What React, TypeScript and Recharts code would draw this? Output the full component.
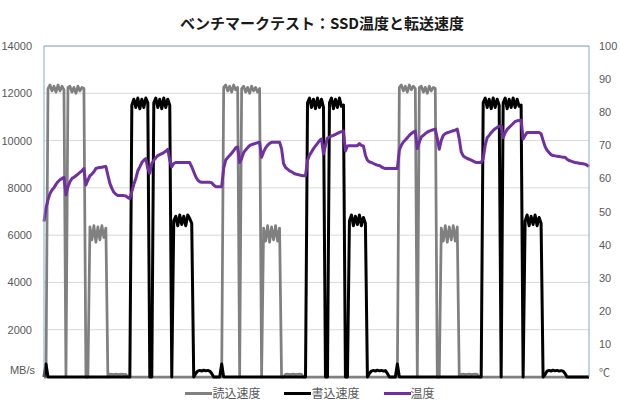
import { CartesianGrid, Line, LineChart, ReferenceLine, XAxis, YAxis } from "recharts";

// read speed (MB/s), one sample every ~2px of the time axis
const readSpeed = [
  0, 0, 12200, 12350, 12100, 12300, 12050, 12350, 12100, 12300,
  12150, 0, 12250, 12300, 12050, 12250, 12000, 12300, 12100, 12250,
  12200, 0, 0, 6350, 5800, 6400, 5700, 6350, 5800, 6400,
  5900, 6300, 0, 120, 110, 100, 120, 100, 110, 120,
  100, 110, 0, 0, 0, 0, 0, 0, 0, 0,
  0, 0, 0, 0, 0, 0, 0, 0, 0, 0,
  0, 0, 0, 0, 0, 0, 0, 0, 0, 0,
  0, 0, 0, 0, 0, 0, 0, 0, 0, 0,
  0, 0, 0, 0, 0, 0, 0, 0, 0, 0,
  12250, 12350, 12100, 12300, 12050, 12350, 12150, 12250, 0, 12200,
  12300, 12050, 12250, 12000, 12300, 12100, 12250, 12050, 12200, 0,
  6300, 5750, 6400, 5700, 6350, 5800, 6400, 5750, 6300, 0,
  0, 110, 120, 100, 110, 120, 100, 110, 120, 110,
  0, 0, 0, 0, 0, 0, 0, 0, 0, 0,
  0, 0, 0, 0, 0, 0, 0, 0, 0, 0,
  0, 0, 0, 0, 0, 0, 0, 0, 0, 0,
  0, 0, 0, 0, 0, 0, 0, 0, 0, 0,
  0, 0, 0, 0, 0, 0, 0, 0, 12250, 12350,
  12100, 12300, 12050, 12350, 12150, 12300, 12200, 0, 12250, 12300,
  12050, 12250, 12000, 12300, 12100, 12250, 12200, 0, 0, 6300,
  5750, 6400, 5700, 6350, 5800, 6400, 5750, 6350, 50, 110,
  120, 100, 110, 120, 100, 110, 120, 110, 0, 0,
  0, 0, 0, 0, 0, 0, 0, 0, 0, 0,
  0, 0, 0, 0, 0, 0, 0, 0, 0, 0,
  0, 0, 0, 0, 0, 0, 0, 0, 0, 0,
  0, 0, 0, 0, 0, 0, 0, 0, 0, 0,
  0, 0, 0, 0, 0, 0, 0, 0, 0, 0,
  0, 0, 0, 0,
];

// write speed (MB/s)
const writeSpeed = [
  0, 550, 0, 0, 0, 0, 0, 0, 0, 0,
  0, 0, 0, 0, 0, 0, 0, 0, 0, 0,
  0, 0, 0, 0, 0, 0, 0, 0, 0, 0,
  0, 0, 0, 0, 0, 0, 0, 0, 0, 0,
  0, 0, 0, 0, 11500, 11750, 11400, 11800, 11350, 11750,
  11400, 11800, 11600, 0, 0, 11600, 11800, 11400, 11750, 11350,
  11800, 11400, 11750, 11500, 0, 6600, 6800, 6400, 6850, 6450,
  6800, 6400, 6850, 6700, 6500, 0, 150, 250, 280, 250,
  290, 260, 280, 250, 150, 0, 0, 0, 0, 550,
  0, 0, 0, 0, 0, 0, 0, 0, 0, 0,
  0, 0, 0, 0, 0, 0, 0, 0, 0, 0,
  0, 0, 0, 0, 0, 0, 0, 0, 0, 0,
  0, 0, 0, 0, 0, 0, 0, 0, 0, 0,
  0, 0, 11600, 11800, 11400, 11750, 11350, 11800, 11400, 11750,
  11400, 0, 0, 11600, 11800, 11350, 11750, 11400, 11800, 11450,
  11500, 0, 0, 6600, 6850, 6400, 6800, 6450, 6850, 6400,
  6750, 6500, 0, 150, 250, 280, 250, 290, 260, 280,
  250, 270, 150, 0, 0, 0, 0, 550, 0, 0,
  0, 0, 0, 0, 0, 0, 0, 0, 0, 0,
  0, 0, 0, 0, 0, 0, 0, 0, 0, 0,
  0, 0, 0, 0, 0, 0, 0, 0, 0, 0,
  0, 0, 0, 0, 0, 0, 0, 0, 0, 0,
  11600, 11800, 11400, 11750, 11350, 11800, 11400, 11750, 11500, 0,
  11600, 11800, 11350, 11750, 11400, 11800, 11400, 11750, 11450, 11500,
  0, 6600, 6850, 6400, 6800, 6450, 6850, 6400, 6750, 6500,
  0, 100, 250, 280, 250, 290, 260, 280, 250, 270,
  250, 150, 0, 0, 0, 0, 0, 0, 0, 0,
  0, 0, 0, 0,
];

// SSD temperature (°C)
const temperature = [
  47, 51, 53.5, 55.4, 56.5, 57.2, 58.2, 59, 59.6, 60,
  60.3, 55, 57.5, 59, 60, 60.3, 60.8, 61.3, 61.8, 62.3,
  63, 58, 59.5, 60.8, 61.3, 62, 63, 63.2, 63.3, 63.4,
  63.5, 63.6, 61, 58.5, 57, 55.8, 55.2, 54.8, 54.8, 54.8,
  54.8, 54.7, 54.2, 53.9, 56, 58.2, 60, 62.3, 63.5, 64.8,
  65.5, 66, 63, 61.5, 64.5, 65.5, 66.2, 66.9, 67.2, 67.5,
  67.8, 68.2, 68.8, 65.5, 63.5, 64.5, 64.8, 64.8, 64.8, 64.8,
  64.8, 64.8, 64.8, 64.8, 63.5, 62, 60.5, 59.5, 59, 58.8,
  58.8, 58.8, 58.8, 58.8, 58.7, 58, 57.5, 57.5, 57.5, 57.5,
  63, 65.5, 66.3, 66.9, 67.6, 68.4, 69.2, 69.5, 64.8, 66,
  67.8, 68.6, 69.3, 69.9, 70.2, 70.4, 70.6, 70.8, 70.9, 66.4,
  68, 69.2, 70, 70.6, 70.9, 70.9, 70.9, 70.9, 70.9, 69,
  64.5, 63.3, 62.8, 62.3, 62, 61.6, 61.3, 61.2, 61, 60.9,
  60.8, 60.8, 65.5, 67, 68, 69, 69.8, 70.6, 71.4, 71.9,
  67.4, 70, 72.2, 72.5, 72.8, 73, 73.3, 73.6, 73.9, 74.1,
  74.3, 68.3, 69.8, 69.9, 69.9, 69.9, 69.9, 69.9, 70.5, 70,
  69.8, 67, 65.5, 65, 64.8, 64.5, 64.2, 64, 63.9, 63.5,
  63.2, 63, 63, 63, 63, 63, 63, 63, 68.5, 70,
  71, 71.6, 72.3, 73, 73.6, 74, 74.3, 69, 71, 72.5,
  73, 73.5, 74, 74.3, 74.5, 74.7, 74.9, 72, 68.8, 71.5,
  73, 73.5, 73.8, 74, 74.2, 74.4, 74.6, 74.9, 72, 68,
  66.8, 66.4, 66, 65.8, 65.5, 65.2, 64.9, 64.8, 64.8, 64.8,
  66, 70, 72.3, 73, 73.8, 74.5, 75, 75.4, 75.7, 75.9,
  72.3, 73.8, 74.8, 75.4, 76, 76.6, 77.2, 77.4, 77.5, 77.6,
  71.9, 73, 73.9, 73.9, 73.9, 73.9, 73.9, 73.9, 73.9, 73.5,
  71.5, 69.6, 68.5, 67.8, 67.2, 66.9, 66.8, 66.7, 66.6, 66.5,
  66.4, 66.4, 65.8, 65.4, 65.2, 65, 64.8, 64.7, 64.6, 64.5,
  64.4, 64.3, 64, 63.6,
];

const speedTicks = [0, 2000, 4000, 6000, 8000, 10000, 12000, 14000];
const tempTicks = [0, 10, 20, 30, 40, 50, 60, 70, 80, 90, 100];

const series = [
  { key: "read", name: "読込速度", color: "#808080" },
  { key: "write", name: "書込速度", color: "#000000" },
  { key: "temp", name: "温度", color: "#7030A0" },
];

const data = temperature.map((t, i) => ({
  t: i,
  read: readSpeed[i],
  write: writeSpeed[i],
  temp: t,
}));

const tickFont = "'Liberation Sans', Arial, sans-serif";
const jpFont = "'Noto Sans CJK JP', sans-serif";

function LeftTick(props: any) {
  const { x, y, payload } = props;
  if (payload.value === 0) {
    return (
      <text x={x + 3} y={y - 7} textAnchor="end" dominantBaseline="central" fill="#595959" fontSize={11} fontFamily={tickFont}>
        MB/s
      </text>
    );
  }
  return (
    <text x={x} y={y} textAnchor="end" dominantBaseline="central" fill="#595959" fontSize={11} fontFamily={tickFont}>
      {payload.value}
    </text>
  );
}

function RightTick(props: any) {
  const { x, y, payload } = props;
  return (
    <text
      x={x}
      y={payload.value === 0 ? y - 5 : y}
      textAnchor="start"
      dominantBaseline="central"
      fill="#595959"
      fontSize={11}
      fontFamily={payload.value === 0 ? jpFont : tickFont}
    >
      {payload.value === 0 ? "℃" : payload.value}
    </text>
  );
}

export default function App() {
  return (
    <div style={{ position: "absolute", left: 0, top: 0, width: 620, height: 410, background: "#fff" }}>
      <div
        style={{
          position: "absolute",
          left: 0,
          width: 644,
          top: 12,
          textAlign: "center",
          fontFamily: jpFont,
          fontWeight: 700,
          fontSize: 15,
          color: "#1a1a1a",
          lineHeight: "22px",
        }}
      >
        ベンチマークテスト：SSD温度と転送速度
      </div>
      <LineChart width={620} height={410} data={data} margin={{ top: 46, right: 0, bottom: 33, left: 0 }}>
        <CartesianGrid yAxisId="left" vertical={false} stroke="#d9d9d9" />
        <XAxis dataKey="t" type="number" domain={[0, 273]} hide />
        <YAxis
          yAxisId="left"
          domain={[0, 14000]}
          ticks={speedTicks}
          width={44}
          tickLine={false}
          tickSize={0}
          tickMargin={12}
          axisLine={{ stroke: "#86aac8" }}
          tick={LeftTick}
          interval={0}
        />
        <YAxis
          yAxisId="right"
          orientation="right"
          domain={[0, 100]}
          ticks={tempTicks}
          width={31}
          tickLine={false}
          tickSize={0}
          tickMargin={10}
          axisLine={{ stroke: "#86aac8" }}
          tick={RightTick}
          interval={0}
        />
        <ReferenceLine yAxisId="left" y={14000} stroke="#86aac8" />
        <Line
          yAxisId="left"
          dataKey="read"
          stroke="#808080"
          strokeWidth={2.75}
          dot={false}
          strokeLinejoin="round"
          isAnimationActive={false}
        />
        <Line
          yAxisId="left"
          dataKey="write"
          stroke="#000000"
          strokeWidth={3}
          dot={false}
          strokeLinejoin="round"
          isAnimationActive={false}
        />
        <Line
          yAxisId="right"
          dataKey="temp"
          stroke="#7030A0"
          strokeWidth={3}
          dot={false}
          strokeLinejoin="round"
          isAnimationActive={false}
        />
      </LineChart>
      <div
        style={{
          position: "absolute",
          left: 0,
          width: 620,
          top: 384,
          display: "flex",
          justifyContent: "center",
          gap: 24,
          fontFamily: jpFont,
          fontSize: 12,
          color: "#595959",
          lineHeight: "18px",
        }}
      >
        {series.map((s) => (
          <div key={s.key} style={{ display: "flex", alignItems: "center" }}>
            <span style={{ display: "inline-block", width: 27, height: 3, background: s.color }} />
            <span>{s.name}</span>
          </div>
        ))}
      </div>
    </div>
  );
}
